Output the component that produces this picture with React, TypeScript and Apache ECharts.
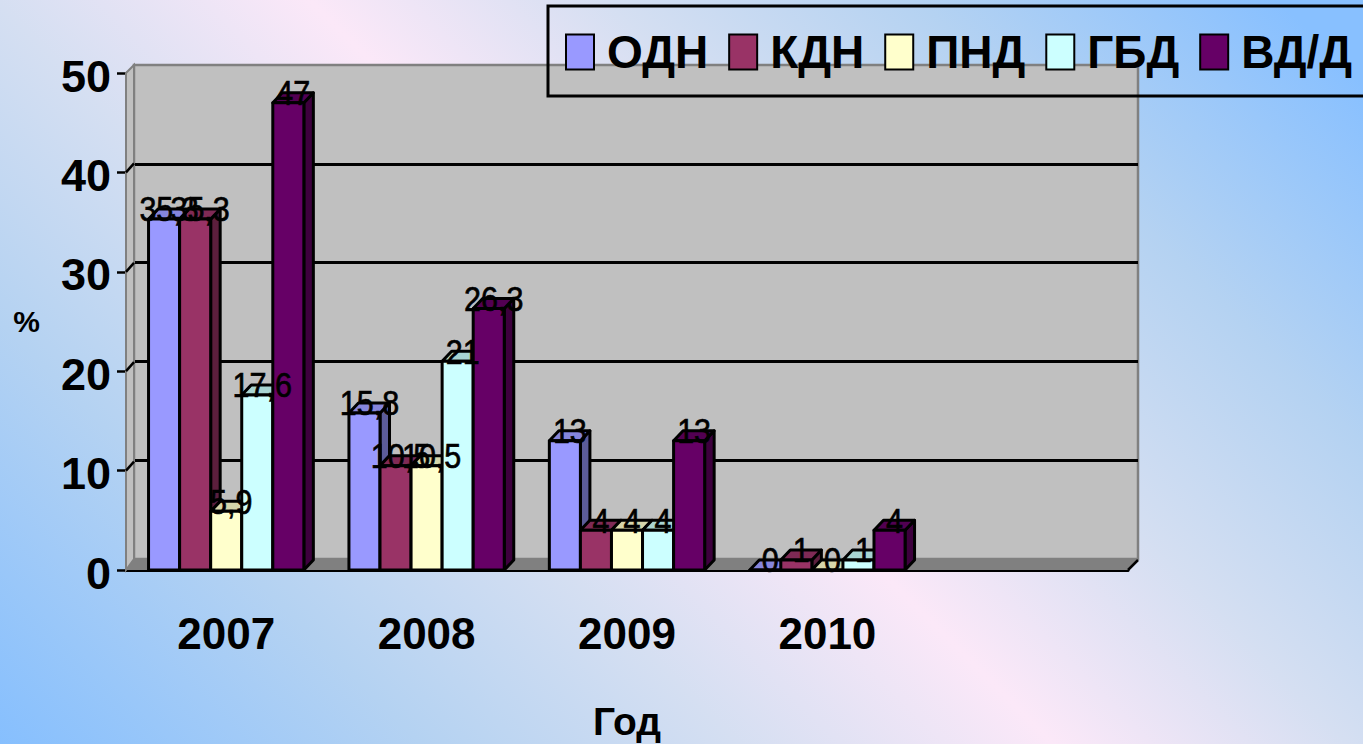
import React, { useEffect, useRef } from "react";
import * as echarts from "echarts";

const categories = ["2007", "2008", "2009", "2010", ""];
const yTicks = [0, 10, 20, 30, 40, 50];
const names = ["ОДН", "КДН", "ПНД", "ГБД", "ВД/Д"];
const odn = [35.3, 15.8, 13, 0];
const kdn = [35.3, 10.5, 4, 1];
const pnd = [5.9, 10.5, 4, 0];
const gbd = [17.6, 21, 4, 1];
const vdd = [47, 26.3, 13, 4];
const seriesValues = [odn, kdn, pnd, gbd, vdd];
const frontColors = ["#9999ff", "#993366", "#ffffcc", "#ccffff", "#660066"];
const topColors = ["#8585dc", "#7f2a55", "#d6d6ab", "#a8d4d2", "#520052"];
const sideColors = ["#5c5c99", "#5c1f3d", "#999979", "#7a9999", "#3d003d"];

const FONT = '"Liberation Sans", Arial, sans-serif';
const DX = 9.5;
const DY = 10;

function barRenderer(s: number) {
  return (_p: any, api: any) => {
    const cat = api.value(0);
    const v = api.value(1);
    const base = api.coord([cat, 0]);
    const top = api.coord([cat, v]);
    const w = api.size([1, 0])[0] * 0.155;
    const l = base[0] + (s - 2.5) * w;
    const r = l + w;
    const stroke = { stroke: "#000", lineWidth: 3, lineJoin: "round" };
    return {
      type: "group",
      children: [
        {
          type: "polygon",
          shape: { points: [[r, base[1]], [r + DX, base[1] - DY], [r + DX, top[1] - DY], [r, top[1]]] },
          style: { fill: sideColors[s], ...stroke },
        },
        {
          type: "polygon",
          shape: { points: [[l, top[1]], [l + DX, top[1] - DY], [r + DX, top[1] - DY], [r, top[1]]] },
          style: { fill: topColors[s], ...stroke },
        },
        {
          type: "rect",
          shape: { x: l, y: top[1], width: w, height: base[1] - top[1] },
          style: { fill: frontColors[s], ...stroke },
        },
        {
          type: "text",
          x: l + w / 2 + 5,
          y: top[1] - 10,
          scaleY: 1.15,
          z2: 100,
          style: {
            text: String(v).replace(".", ","),
            fill: "#000",
            stroke: "#000",
            lineWidth: 0.6,
            font: `30.5px ${FONT}`,
            align: "center",
            verticalAlign: "middle",
          },
        },
      ],
    };
  };
}

export default function App() {
  const ref = useRef<HTMLDivElement>(null);
  useEffect(() => {
    const chart = echarts.init(ref.current!, undefined, { renderer: "svg" });
    chart.setOption({
      animation: false,
      backgroundColor: "transparent",
      grid: [
        { left: 126, top: 73, width: 1002, height: 497, outerBoundsMode: "none" },
        {
          left: 134,
          top: 65,
          width: 1004,
          height: 494,
          outerBoundsMode: "none",
          show: true,
          backgroundColor: "#c0c0c0",
          borderColor: "#808080",
          borderWidth: 2.5,
        },
      ],
      legend: {
        left: 548,
        top: 6,
        orient: "horizontal",
        width: 900,
        data: names,
        padding: [23, 20, 21, 17],
        itemGap: 20,
        itemWidth: 28,
        itemHeight: 35,
        icon: "rect",
        borderColor: "#000",
        borderWidth: 3,
        textStyle: { color: "#000", fontFamily: FONT, fontWeight: "bold", fontSize: 46, padding: [0, 0, 0, 8] },
      },
      graphic: [
        {
          type: "polygon",
          z: 1,
          shape: { points: [[126, 73], [134, 65], [134, 559], [126, 570]] },
          style: { fill: "#c0c0c0", stroke: "#808080", lineWidth: 2 },
        },
        {
          type: "polygon",
          z: 1,
          shape: { points: [[126, 570], [134, 559], [1138, 559], [1128, 570]] },
          style: { fill: "#808080" },
        },
        {
          type: "line",
          z: 6,
          shape: { x1: 1128, y1: 570, x2: 1138, y2: 560 },
          style: { stroke: "#000", lineWidth: 2.5 },
        },
      ],
      xAxis: [
        {
          type: "category",
          data: categories,
          gridIndex: 0,
          name: "Год",
          nameLocation: "middle",
          nameGap: 132,
          nameTextStyle: { color: "#000", fontFamily: FONT, fontWeight: "bold", fontSize: 39 },
          axisLine: { lineStyle: { color: "#000", width: 3 } },
          axisTick: { alignWithLabel: false, length: 9, lineStyle: { color: "#000", width: 2.5 } },
          axisLabel: { color: "#000", fontFamily: FONT, fontWeight: "bold", fontSize: 44, margin: 41 },
          splitLine: { show: false },
        },
        { type: "category", data: categories, gridIndex: 1, show: false },
      ],
      yAxis: [
        {
          type: "value",
          min: 0,
          max: 50,
          interval: 10,
          gridIndex: 0,
          name: "%",
          nameLocation: "middle",
          nameRotate: 0,
          nameGap: 86,
          nameTextStyle: { color: "#000", fontFamily: FONT, fontWeight: "bold", fontSize: 30 },
          axisLine: { show: true, lineStyle: { color: "#000", width: 2.5 } },
          axisTick: { show: true, length: 9, lineStyle: { color: "#000", width: 2.5 } },
          axisLabel: {
            color: "#000",
            margin: 15,
            formatter: "{a|{value}}",
            rich: {
              a: { color: "#000", fontFamily: FONT, fontWeight: "bold", fontSize: 45, padding: [6, 0, 0, 0] },
            },
          },
          splitLine: { show: false },
        },
        {
          type: "value",
          min: 0,
          max: 50,
          interval: 10,
          gridIndex: 1,
          axisLine: { show: false },
          axisTick: { show: false },
          axisLabel: { show: false },
          splitLine: { show: true, showMinLine: false, showMaxLine: false, lineStyle: { color: "#000", width: 3 } },
        },
      ],
      series: [
        {
          type: "custom",
          name: "ticks",
          silent: true,
          clip: false,
          z: 1,
          xAxisIndex: 0,
          yAxisIndex: 0,
          data: yTicks.slice(1, 5).map((t) => [0, t]),
          encode: { x: 0, y: 1 },
          renderItem: (_p: any, api: any) => {
            const y = api.coord([0, api.value(1)])[1];
            const x0 = api.coord([0, 0])[0] - api.size([1, 0])[0] / 2;
            return {
              type: "line",
              shape: { x1: x0, y1: y, x2: x0 + 8, y2: y - 9 },
              style: { stroke: "#000", lineWidth: 2.5 },
            };
          },
        },
        ...names.map((name, s) => ({
          type: "custom",
          name,
          clip: false,
          z: 3,
          xAxisIndex: 0,
          yAxisIndex: 0,
          itemStyle: { color: frontColors[s], borderColor: "#000", borderWidth: 2.5 },
          data: seriesValues[s].map((v, i) => [i, v]),
          encode: { x: 0, y: 1 },
          renderItem: barRenderer(s),
        })),
      ],
    });
    return () => chart.dispose();
  }, []);
  return (
    <div
      style={{
        position: "fixed",
        left: 0,
        top: 0,
        width: 1363,
        height: 744,
        overflow: "hidden",
        background:
          "linear-gradient(45deg, #86bffe 0%, #b4d2f2 20%, #d5dff2 35%, #fbe8f8 50%, #d5dff2 64%, #b4d2f2 79%, #88c0ff 96%)",
      }}
    >
      <div ref={ref} style={{ width: 1363, height: 744 }} />
    </div>
  );
}
